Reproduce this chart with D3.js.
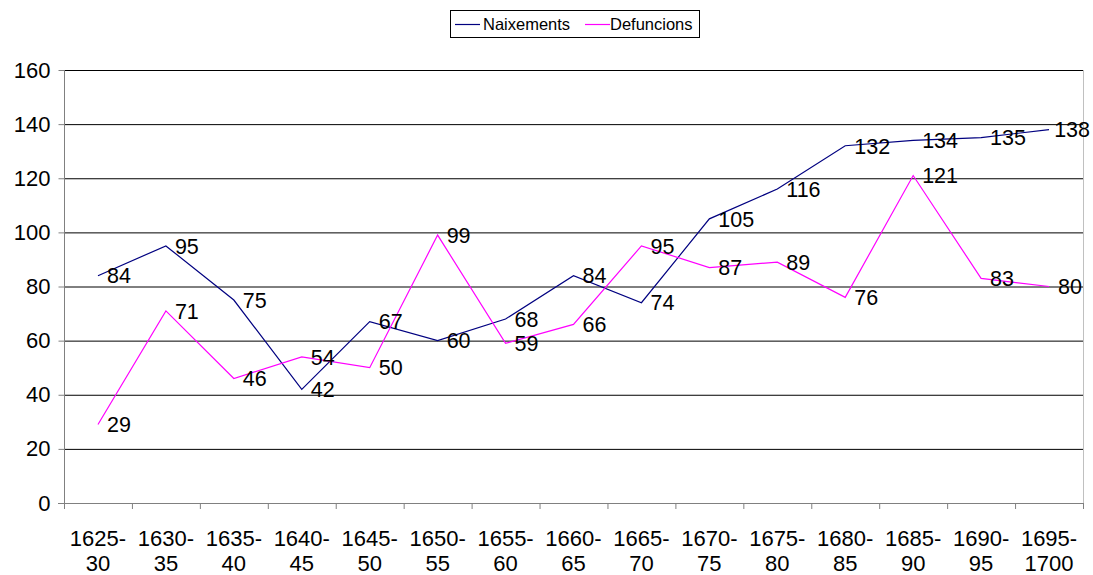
<!DOCTYPE html>
<html><head><meta charset="utf-8">
<script src="https://cdn.jsdelivr.net/npm/d3@7"></script>
<style>body{margin:0;background:#fff}svg{display:block}text{font-family:"Liberation Sans",Arial,sans-serif}</style>
</head><body><svg id="c" width="1093" height="575"></svg>
<script>
const categories = ["1625-30","1630-35","1635-40","1640-45","1645-50","1650-55","1655-60","1660-65","1665-70","1670-75","1675-80","1680-85","1685-90","1690-95","1695-1700"];
const naixements = [84,95,75,42,67,60,68,84,74,105,116,132,134,135,138];
const defuncions = [29,71,46,54,50,99,59,66,95,87,89,76,121,83,80];
const yTicks = [0,20,40,60,80,100,120,140,160];
const seriesNames = ["Naixements","Defuncions"];
const colors = ["#000080","#FF00FF"];

const svg = d3.select("#c");
const W=1093;
const L=64, R=1083, T=70, B=503;
const x = d3.scaleBand().domain(categories).range([L,R]);
const y = d3.scaleLinear().domain([0,160]).range([B,T]);

// gridlines
svg.append("g").selectAll("line").data(yTicks.filter(d=>d>0)).join("line")
  .attr("x1",L).attr("x2",R).attr("y1",d=>y(d)+0.5).attr("y2",d=>y(d)+0.5)
  .attr("stroke","#000").attr("stroke-width",1);
// right border
svg.append("line").attr("x1",R+0.5).attr("x2",R+0.5).attr("y1",T).attr("y2",B).attr("stroke","#c0c0c0");

// y axis
const ya = svg.append("g").attr("transform",`translate(${L+0.5},0)`)
  .call(d3.axisLeft(y).tickValues(yTicks).tickSize(6).tickPadding(8));
ya.select(".domain").attr("stroke","#808080").attr("d",`M0,${T}V${B+0.5}`);
ya.selectAll(".tick line").attr("stroke","#808080");
ya.selectAll(".tick text").attr("font-size",22).attr("fill","#000").attr("font-family","Liberation Sans, Arial, sans-serif");

// x axis
const xa = svg.append("g").attr("transform",`translate(0,${B+0.5})`)
  .call(d3.axisBottom(x).tickSize(0).tickFormat(""));
xa.select(".domain").attr("stroke","#808080").attr("d",`M${L-6},0H${R}`);
svg.append("g").selectAll("line").data(d3.range(categories.length+1)).join("line")
  .attr("x1",i=>L+i*x.bandwidth()+0.5).attr("x2",i=>L+i*x.bandwidth()+0.5)
  .attr("y1",B).attr("y2",B+6).attr("stroke","#808080");
const xl = svg.append("g").selectAll("text").data(categories).join("text")
  .attr("x",d=>x(d)+x.bandwidth()/2).attr("text-anchor","middle")
  .attr("font-size",22).attr("fill","#000");
xl.append("tspan").attr("x",d=>x(d)+x.bandwidth()/2).attr("y",546).text(d=>d.split("-")[0]+"-");
xl.append("tspan").attr("x",d=>x(d)+x.bandwidth()/2).attr("y",571).text(d=>d.split("-")[1]);

// lines
const cx = d=>x(d)+x.bandwidth()/2;
[naixements,defuncions].forEach((vals,si)=>{
  const line = d3.line().x((v,i)=>cx(categories[i])).y(v=>y(v));
  svg.append("path").datum(vals).attr("d",line).attr("fill","none")
    .attr("stroke",colors[si]).attr("stroke-width",1.2);
});
[naixements,defuncions].forEach((vals,si)=>{
  svg.append("g").selectAll("text").data(vals).join("text")
    .attr("x",(v,i)=>cx(categories[i])+9).attr("y",v=>y(v)).attr("dy","0.36em")
    .attr("font-size",21.5).attr("fill","#000").text(v=>v)
    .each(function(){
      const w=this.getComputedTextLength();
      const x0=+this.getAttribute("x");
      if(x0+w>W-3) this.setAttribute("x",W-3-w);
    });
});

// legend
const lg = svg.append("g");
lg.append("rect").attr("x",450.5).attr("y",10.5).attr("width",249).attr("height",27)
  .attr("fill","#fff").attr("stroke","#000");
const items=[{x:455,tx:483},{x:585,tx:610}];
seriesNames.forEach((n,i)=>{
  lg.append("line").attr("x1",items[i].x).attr("x2",items[i].x+25).attr("y1",24.5).attr("y2",24.5).attr("stroke",colors[i]).attr("stroke-width",1.2);
  lg.append("text").attr("x",items[i].tx).attr("y",30).attr("font-size",16.5).attr("fill","#000").text(n);
});
</script></body></html>
